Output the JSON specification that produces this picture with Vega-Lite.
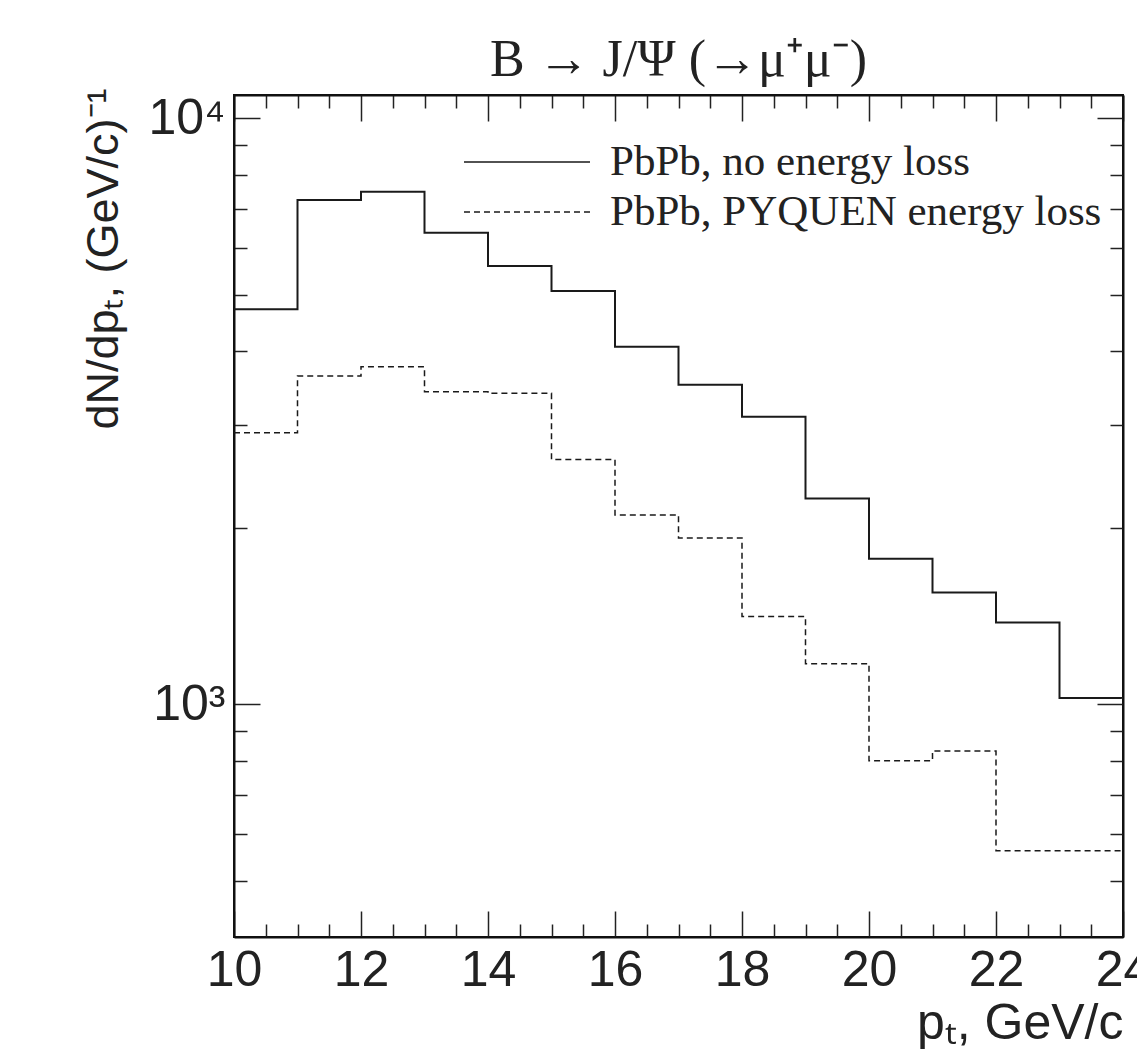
{
  "$schema": "https://vega.github.io/schema/vega-lite/v6.json",
  "autosize": "none",
  "width": 889,
  "height": 842,
  "padding": {"left": 234, "top": 95, "right": 14, "bottom": 114},
  "background": "white",
  "config": {
    "view": {"stroke": "#111", "strokeWidth": 2},
    "axis": {"grid": false, "domainColor": "#111", "domainWidth": 2, "tickColor": "#222", "tickWidth": 1.5, "labelFont": "Liberation Sans", "labelFontSize": 50, "labelColor": "#222", "titleFont": "Liberation Sans", "titleFontWeight": "normal", "titleColor": "#222", "labelOverlap": false, "labelBound": false, "labelFlush": false}
  },
  "title": {"text": "B → J/Ψ (→μ⁺μ⁻)", "font": "Liberation Serif", "fontSize": 52, "fontWeight": "normal", "color": "#222", "anchor": "middle", "baseline": "alphabetic", "offset": -40},
  "data": {"values": [
    {"pt": 10, "dndpt": 4720, "series": "PbPb, no energy loss"},
    {"pt": 11, "dndpt": 7253, "series": "PbPb, no energy loss"},
    {"pt": 12, "dndpt": 7494, "series": "PbPb, no energy loss"},
    {"pt": 13, "dndpt": 6378, "series": "PbPb, no energy loss"},
    {"pt": 14, "dndpt": 5595, "series": "PbPb, no energy loss"},
    {"pt": 15, "dndpt": 5072, "series": "PbPb, no energy loss"},
    {"pt": 16, "dndpt": 4074, "series": "PbPb, no energy loss"},
    {"pt": 17, "dndpt": 3510, "series": "PbPb, no energy loss"},
    {"pt": 18, "dndpt": 3094, "series": "PbPb, no energy loss"},
    {"pt": 19, "dndpt": 2245, "series": "PbPb, no energy loss"},
    {"pt": 20, "dndpt": 1771, "series": "PbPb, no energy loss"},
    {"pt": 21, "dndpt": 1551, "series": "PbPb, no energy loss"},
    {"pt": 22, "dndpt": 1379, "series": "PbPb, no energy loss"},
    {"pt": 23, "dndpt": 1025, "series": "PbPb, no energy loss"},
    {"pt": 24, "dndpt": 1025, "series": "PbPb, no energy loss"},
    {"pt": 10, "dndpt": 2905, "series": "PbPb, PYQUEN energy loss"},
    {"pt": 11, "dndpt": 3631, "series": "PbPb, PYQUEN energy loss"},
    {"pt": 12, "dndpt": 3766, "series": "PbPb, PYQUEN energy loss"},
    {"pt": 13, "dndpt": 3414, "series": "PbPb, PYQUEN energy loss"},
    {"pt": 14, "dndpt": 3393, "series": "PbPb, PYQUEN energy loss"},
    {"pt": 15, "dndpt": 2617, "series": "PbPb, PYQUEN energy loss"},
    {"pt": 16, "dndpt": 2104, "series": "PbPb, PYQUEN energy loss"},
    {"pt": 17, "dndpt": 1922, "series": "PbPb, PYQUEN energy loss"},
    {"pt": 18, "dndpt": 1411, "series": "PbPb, PYQUEN energy loss"},
    {"pt": 19, "dndpt": 1173, "series": "PbPb, PYQUEN energy loss"},
    {"pt": 20, "dndpt": 801, "series": "PbPb, PYQUEN energy loss"},
    {"pt": 21, "dndpt": 832, "series": "PbPb, PYQUEN energy loss"},
    {"pt": 22, "dndpt": 562, "series": "PbPb, PYQUEN energy loss"},
    {"pt": 23, "dndpt": 562, "series": "PbPb, PYQUEN energy loss"},
    {"pt": 24, "dndpt": 562, "series": "PbPb, PYQUEN energy loss"}
  ]},
  "layer": [
    {
      "transform": [{"filter": "datum.series == 'PbPb, no energy loss'"}],
      "mark": {"type": "line", "interpolate": "step-after", "color": "#1a1a1a", "strokeWidth": 2, "clip": true},
      "encoding": {
        "x": {"field": "pt", "type": "quantitative", "scale": {"domain": [10, 24], "nice": false, "zero": false},
          "axis": {"orient": "bottom", "values": [10,10.5,11,11.5,12,12.5,13,13.5,14,14.5,15,15.5,16,16.5,17,17.5,18,18.5,19,19.5,20,20.5,21,21.5,22,22.5,23,23.5,24],
            "tickSize": {"condition": {"test": "datum.value % 2 == 0", "value": -26}, "value": -13},
            "labelExpr": "datum.value % 2 == 0 ? format(datum.value, 'd') : ''",
            "labelPadding": 34,
            "title": "pₜ,  GeV/c", "titleFontSize": 50, "titleAnchor": "end", "titleAlign": "right", "titleBaseline": "alphabetic", "titleX": 889, "titleY": 101}},
        "y": {"field": "dndpt", "type": "quantitative", "scale": {"type": "log", "domain": [400.6, 10960], "nice": false},
          "axis": {"orient": "left", "values": [500,600,700,800,900,1000,2000,3000,4000,5000,6000,7000,8000,9000,10000],
            "tickSize": {"condition": {"test": "datum.value == 1000 || datum.value == 10000", "value": -26}, "value": -13},
            "labelExpr": "datum.value == 10000 ? '10⁴' : (datum.value == 1000 ? '10³' : '')",
            "labelPadding": 35,
            "title": "dN/dpₜ, (GeV/c)⁻¹", "titleFontSize": 45, "titleAngle": -90, "titleAnchor": "end", "titleAlign": "right", "titleBaseline": "alphabetic", "titleX": -117, "titleY": -7}},
        "strokeDash": {"field": "series", "type": "nominal",
          "scale": {"domain": ["PbPb, no energy loss", "PbPb, PYQUEN energy loss"], "range": [[1, 0], [6, 4]]},
          "legend": {"orient": "none", "legendX": 229, "legendY": 47, "title": null, "symbolType": "stroke", "symbolSize": 15876, "symbolStrokeWidth": 1.5, "symbolStrokeColor": "#222", "labelFont": "Liberation Serif", "labelFontSize": 43, "labelColor": "#222", "labelOffset": 19, "clipHeight": 40, "rowPadding": 7, "labelLimit": 800, "padding": 0}}
      }
    },
    {
      "transform": [{"filter": "datum.series == 'PbPb, PYQUEN energy loss'"}],
      "mark": {"type": "line", "interpolate": "step-after", "color": "#1a1a1a", "strokeWidth": 1.5, "clip": true},
      "encoding": {
        "x": {"field": "pt", "type": "quantitative",
          "axis": {"orient": "top", "values": [10,10.5,11,11.5,12,12.5,13,13.5,14,14.5,15,15.5,16,16.5,17,17.5,18,18.5,19,19.5,20,20.5,21,21.5,22,22.5,23,23.5,24],
            "tickSize": {"condition": {"test": "datum.value % 2 == 0", "value": -26}, "value": -13},
            "labels": false, "title": null}},
        "y": {"field": "dndpt", "type": "quantitative",
          "axis": {"orient": "right", "values": [500,600,700,800,900,1000,2000,3000,4000,5000,6000,7000,8000,9000,10000],
            "tickSize": {"condition": {"test": "datum.value == 1000 || datum.value == 10000", "value": -26}, "value": -13},
            "labels": false, "title": null}},
        "strokeDash": {"field": "series", "type": "nominal"}
      }
    }
  ],
  "resolve": {"axis": {"x": "independent", "y": "independent"}}
}
